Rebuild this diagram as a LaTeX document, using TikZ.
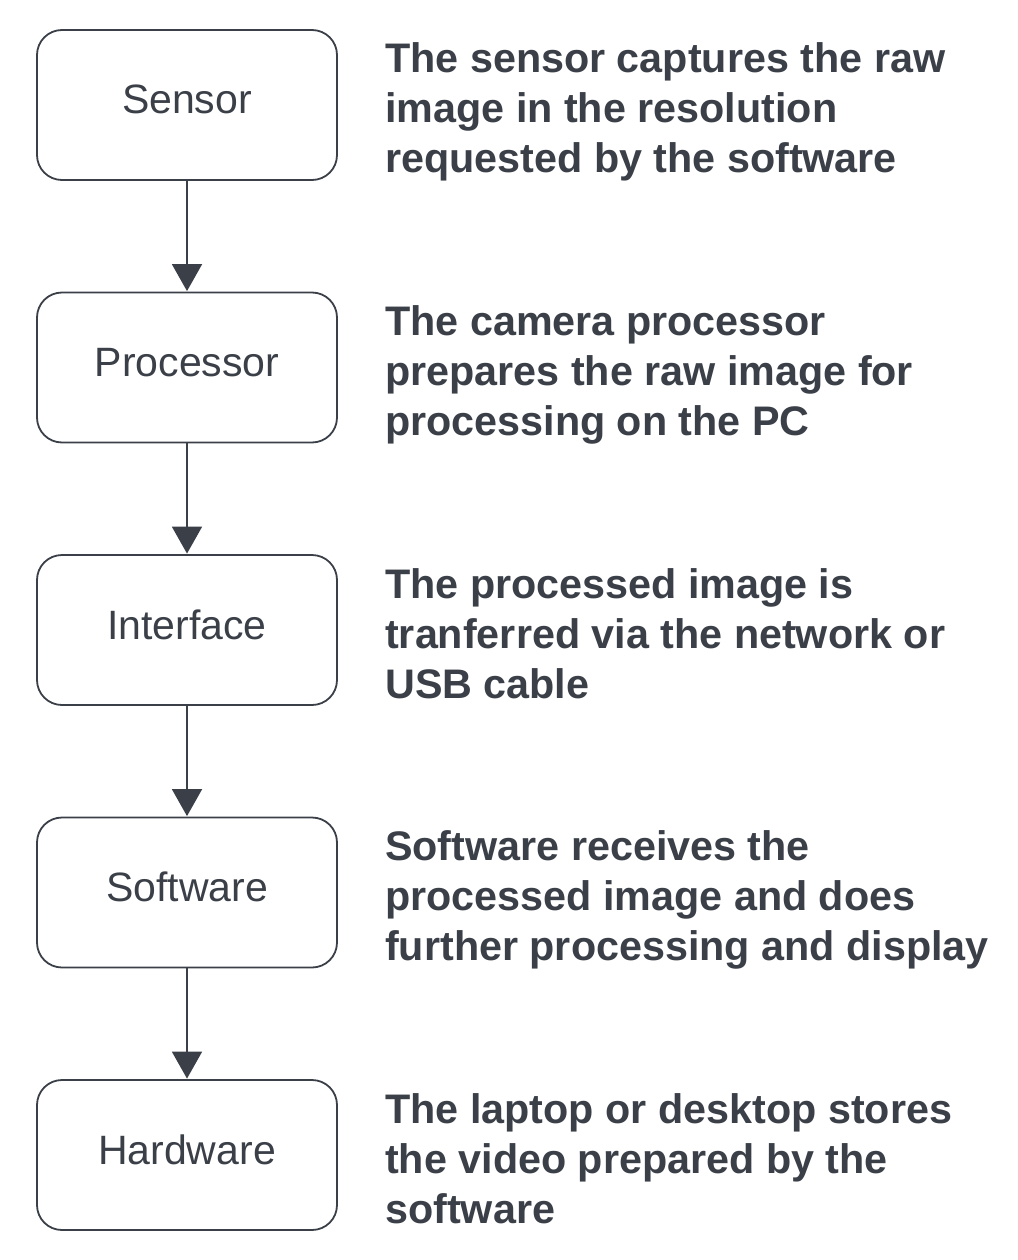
\documentclass[tikz,border=0pt]{standalone}
\usepackage{fontspec}
\setmainfont{Liberation Sans}
\usetikzlibrary{arrows.meta}
\definecolor{ink}{HTML}{3A3F48}
\begin{document}
\begin{tikzpicture}[x=1pt,y=-1pt,
  stage/.style={draw=ink,line width=1.8pt,rounded corners=25pt,minimum width=300pt,minimum height=150pt,inner sep=0pt,text height=28pt,text depth=10pt,text=ink,font=\fontsize{41}{48}\selectfont},
  desc/.style={anchor=base west,align=left,inner sep=0pt,text=ink,font=\fontsize{41.3}{50}\selectfont\bfseries},
  flow/.style={draw=ink,line width=1.8pt,-{Triangle[width=30pt,length=27pt]},shorten >=0.5pt}]
\useasboundingbox (0,0) rectangle (1017,1260);
\node[stage] (s1) at (187,105) {Sensor};
\node[stage] (s2) at (187,367.5) {Processor};
\node[stage] (s3) at (187,630) {Interface};
\node[stage] (s4) at (187,892.5) {Software};
\node[stage] (s5) at (187,1155) {Hardware};
\draw[flow] (s1) -- (s2);
\draw[flow] (s2) -- (s3);
\draw[flow] (s3) -- (s4);
\draw[flow] (s4) -- (s5);
\node[desc] (d1) at (385,173) {The sensor captures the raw\\image in the resolution\\requested by the software};
\node[desc] (d2) at (385,435.5) {The camera processor\\prepares the raw image for\\processing on the PC};
\node[desc] (d3) at (385,698) {The processed image is\\tranferred via the network or\\USB cable};
\node[desc] (d4) at (385,960.5) {Software receives the\\processed image and does\\further processing and display};
\node[desc] (d5) at (385,1223) {The laptop or desktop stores\\the video prepared by the\\software};
\end{tikzpicture}
\end{document}
